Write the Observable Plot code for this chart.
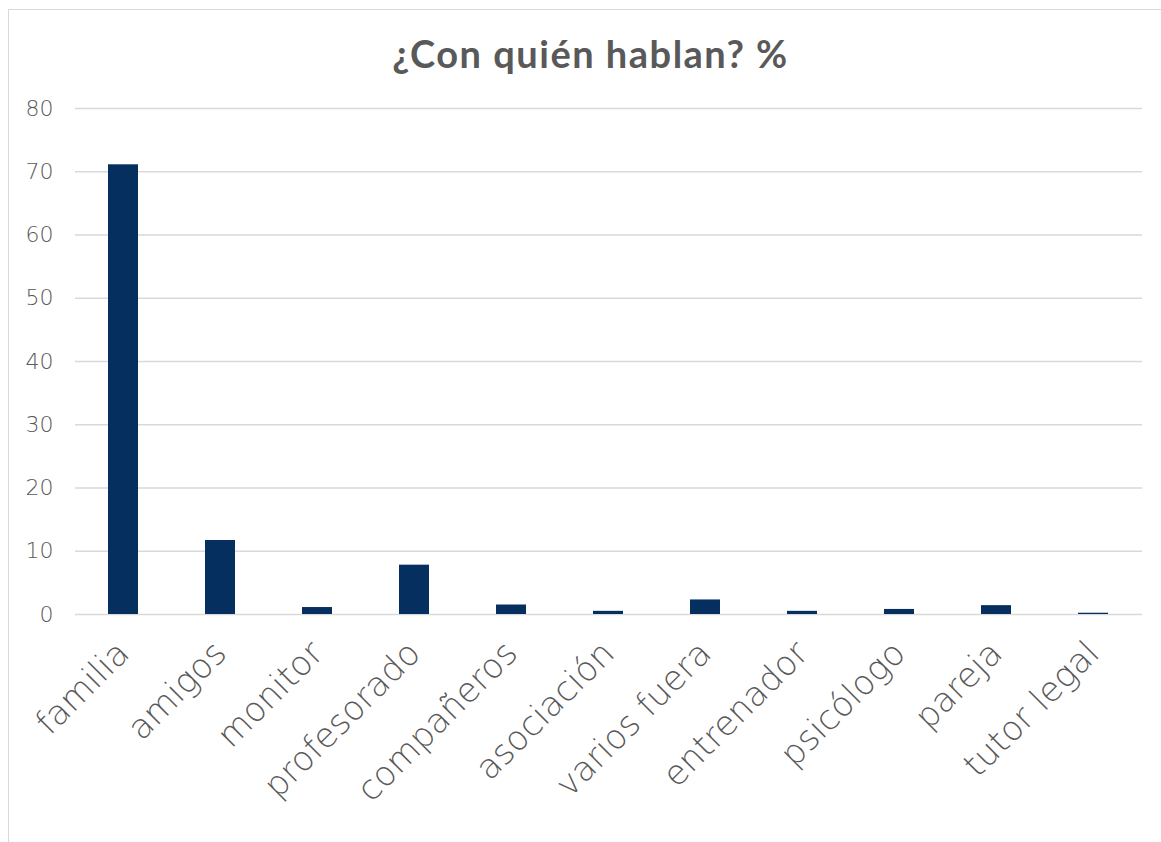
<!DOCTYPE html>
<html>
<head>
<meta charset="utf-8">
<script src="https://cdn.jsdelivr.net/npm/d3@7"></script>
<script src="https://cdn.jsdelivr.net/npm/@observablehq/plot@0.6"></script>
<style>
  html, body { margin: 0; padding: 0; background: #fff; }
  #wrap { position: relative; width: 1161px; height: 842px; overflow: hidden; }
  #frame { position: absolute; left: 8px; top: 9px; width: 1170px; height: 850px; border: 1px solid #d9d9d9; box-sizing: border-box; }
  #title { position: absolute; left: 0; top: 30px; width: 1181px; text-align: center; font-family: Lato, "DejaVu Sans", sans-serif; font-weight: 700; font-size: 38px; letter-spacing: 1.5px; color: #595959; }
  #chart { position: absolute; left: 0; top: 0; }
</style>
</head>
<body>
<div id="wrap">
  <div id="frame"></div>
  <div id="chart"></div>
  <div id="title">¿Con quién hablan? %</div>
</div>
<script>
const categories = ["familia", "amigos", "monitor", "profesorado", "compañeros", "asociación", "varios fuera", "entrenador", "psicólogo", "pareja", "tutor legal"];
const values = [71.1, 11.7, 1.1, 7.8, 1.5, 0.5, 2.3, 0.5, 0.8, 1.4, 0.2];
const yTicks = [0, 10, 20, 30, 40, 50, 60, 70, 80];

const data = categories.map((c, i) => ({category: c, value: values[i]}));

const chart = Plot.plot({
  width: 1161,
  height: 842,
  marginLeft: 75,
  marginRight: 19,
  marginTop: 108,
  marginBottom: 228,
  style: {fontFamily: "'DejaVu Sans', sans-serif", background: "transparent"},
  x: {domain: categories, paddingInner: 0.69, paddingOuter: 0.345, label: null},
  y: {domain: [0, 80], label: null},
  marks: [
    Plot.gridY(yTicks, {stroke: "#d9d9d9", strokeOpacity: 1, strokeWidth: 1.3}),
    Plot.barY(data, {x: "category", y: "value", fill: "#052F5F"}),
    Plot.axisY(yTicks, {tickSize: 0, tickPadding: 22, fontSize: 22, fill: "#595959", fontWeight: 200, fontFamily: "'DejaVu Sans', sans-serif", label: null}),
    Plot.axisX({tickSize: 0, tickRotate: -45, tickPadding: 33, fontSize: 34, fill: "#595959", fontWeight: 200, fontFamily: "'DejaVu Sans', sans-serif", label: null})
  ]
});
document.getElementById("chart").appendChild(chart);
</script>
</body>
</html>
